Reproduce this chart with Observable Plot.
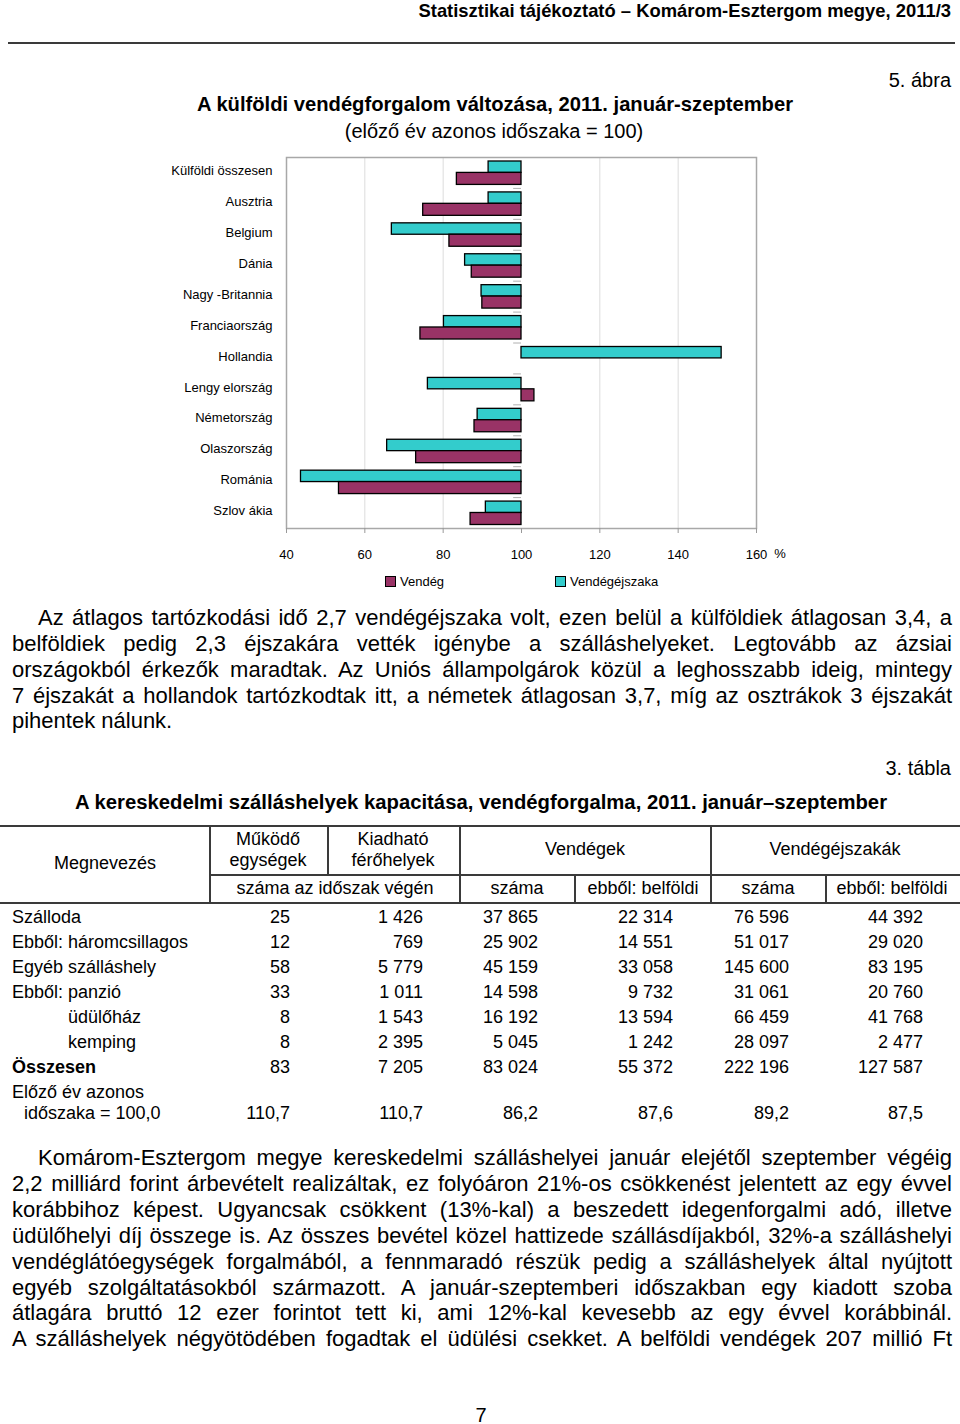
<!DOCTYPE html>
<html>
<head>
<meta charset="utf-8">
<script src="https://cdn.jsdelivr.net/npm/d3@7"></script>
<script src="https://cdn.jsdelivr.net/npm/@observablehq/plot@0.6"></script>
<style>
  html, body { margin: 0; padding: 0; background: #fff; }
  #page { position: relative; width: 960px; height: 1424px; overflow: hidden;
          font-family: "Liberation Sans", Arial, Helvetica, sans-serif; color: #000; background: #fff; }
  .abs { position: absolute; white-space: nowrap; }
  .pl { position: absolute; white-space: normal; text-align: justify; text-align-last: justify; }
  .pl.last { text-align-last: left; }
  .hl { position: absolute; background: #3a3a3a; }
  #chart { position: absolute; left: 0; top: 150px; }
</style>
</head>
<body>
<div id="page"><div id="chart"></div></div>
<script>
// ---------------- chart data ----------------
const categories = ["Külföldi összesen", "Ausztria", "Belgium", "Dánia", "Nagy -Britannia", "Franciaország",
  "Hollandia", "Lengy elország", "Németország", "Olaszország", "Románia", "Szlov ákia"];
const vendeg =        [83.5, 74.9, 81.6, 87.3, 90.0, 74.2, null, 103.3, 88.0, 73.1, 53.4, 87.0];
const vendegejszaka = [91.6, 91.6, 66.9, 85.6, 89.8, 80.2, 151.1, 76.1, 88.8, 65.7, 43.7, 90.9];
const xTicks = [40, 60, 80, 100, 120, 140, 160];
const gridTicks = [60, 80, 120, 140];
const seriesNames = ["Vendég", "Vendégéjszaka"];
const seriesColors = ["#993366", "#33CCCC"];

// ---------------- table data ----------------
const rowLabels = ["Szálloda", "Ebből: háromcsillagos", "Egyéb szálláshely", "Ebből: panzió", "üdülőház", "kemping", "Összesen"];
const colEgysegek = ["25", "12", "58", "33", "8", "8", "83"];
const colFerohely = ["1 426", "769", "5 779", "1 011", "1 543", "2 395", "7 205"];
const colVendeg = ["37 865", "25 902", "45 159", "14 598", "16 192", "5 045", "83 024"];
const colVendegBel = ["22 314", "14 551", "33 058", "9 732", "13 594", "1 242", "55 372"];
const colEjszaka = ["76 596", "51 017", "145 600", "31 061", "66 459", "28 097", "222 196"];
const colEjszakaBel = ["44 392", "29 020", "83 195", "20 760", "41 768", "2 477", "127 587"];
const indexRow = ["110,7", "110,7", "86,2", "87,6", "89,2", "87,5"];

const page = document.getElementById("page");

function txt(str, x, y, opts = {}) {
  const size = opts.size || 20;
  const lh = Math.round(size * 1.25);
  const d = document.createElement("div");
  d.className = "abs";
  d.textContent = str;
  d.style.fontSize = size + "px";
  d.style.lineHeight = lh + "px";
  d.style.top = (y - lh / 2) + "px";
  if (opts.weight) d.style.fontWeight = opts.weight;
  const anchor = opts.anchor || "start";
  if (anchor === "start") d.style.left = x + "px";
  else if (anchor === "end") d.style.right = (960 - x) + "px";
  else { d.style.left = (x - 500) + "px"; d.style.width = "1000px"; d.style.textAlign = "center"; }
  page.appendChild(d);
  return d;
}
function hline(x1, x2, y, w) {
  const d = document.createElement("div");
  d.className = "hl";
  d.style.left = x1 + "px"; d.style.width = (x2 - x1) + "px";
  d.style.top = (y - w / 2) + "px"; d.style.height = w + "px";
  page.appendChild(d);
}
function vline(x, y1, y2, w) {
  const d = document.createElement("div");
  d.className = "hl";
  d.style.left = (x - w / 2) + "px"; d.style.width = w + "px";
  d.style.top = y1 + "px"; d.style.height = (y2 - y1) + "px";
  page.appendChild(d);
}
function para(lines, yStart, step, size) {
  lines.forEach((s, i) => {
    const d = document.createElement("div");
    d.className = "pl" + (i === lines.length - 1 && !lines.justifyLast ? " last" : "");
    d.textContent = s;
    d.style.fontSize = size + "px";
    d.style.lineHeight = step + "px";
    const left = i === 0 ? 38 : 12;
    d.style.left = left + "px";
    d.style.width = (952 - left) + "px";
    d.style.top = (yStart + i * step - step / 2) + "px";
    page.appendChild(d);
  });
}

// ---------------- page header ----------------
txt("Statisztikai tájékoztató – Komárom-Esztergom megye, 2011/3", 951, 10, { size: 18.4, weight: "bold", anchor: "end" });
hline(8, 955, 43, 2);
txt("5. ábra", 951, 80, { size: 20, anchor: "end" });
txt("A külföldi vendégforgalom változása, 2011. január-szeptember", 495, 104, { size: 20.2, weight: "bold", anchor: "middle" });
txt("(előző év azonos időszaka = 100)", 494, 131, { size: 20, anchor: "middle" });

// ---------------- chart ----------------
const data = categories.flatMap((c, i) => [
  { cat: c, series: seriesNames[1], value: vendegejszaka[i] },
  { cat: c, series: seriesNames[0], value: vendeg[i] }
]);
const bandH = 371 / categories.length;

const chart = Plot.plot({
  width: 960,
  height: 420,
  marginLeft: 286,
  marginRight: 204,
  marginTop: 7,
  marginBottom: 42,
  style: { fontFamily: '"Liberation Sans", Arial, sans-serif', fontSize: "13px", color: "#000", background: "transparent" },
  x: { domain: [40, 160], ticks: xTicks },
  y: { domain: categories, padding: 0, round: false },
  marks: [
    Plot.gridX(gridTicks, { stroke: "#dcdcdc", strokeOpacity: 1 }),
    Plot.frame({ stroke: "#a8a8a8", strokeWidth: 1.5 }),
    Plot.ruleY(categories.slice(1), { y: d => d, dy: -bandH / 2, x1: () => 98, x2: () => 100, stroke: "#b0b0b0" }),
    Plot.barX(data.filter(d => d.series === seriesNames[1]), {
      y: "cat", x1: () => 100, x2: "value", fill: seriesColors[1], stroke: "#000", strokeWidth: 1.3,
      insetTop: 4, insetBottom: bandH - 15.4
    }),
    Plot.barX(data.filter(d => d.series === seriesNames[0] && d.value != null), {
      y: "cat", x1: () => 100, x2: "value", fill: seriesColors[0], stroke: "#000", strokeWidth: 1.3,
      insetTop: 15.4, insetBottom: 3.5
    }),
    Plot.axisX({ ticks: xTicks, tickSize: 5, tickPadding: 16, stroke: "#999", label: null }),
    Plot.axisY({ tickSize: 0, tickPadding: 14, dy: -2, label: null })
  ]
});
document.getElementById("chart").appendChild(chart);

// unit label and legend
txt("%", 780, 554, { size: 13, anchor: "middle" });
const legendX = [385, 555];
seriesNames.forEach((name, i) => {
  const sq = document.createElement("div");
  sq.className = "abs";
  sq.style.left = legendX[i] + "px";
  sq.style.top = "576px";
  sq.style.width = "9px"; sq.style.height = "9px";
  sq.style.background = seriesColors[i];
  sq.style.border = "1.3px solid #000";
  page.appendChild(sq);
  txt(name, legendX[i] + 15, 582, { size: 13 });
});

// ---------------- paragraph 1 ----------------
para([
  "Az átlagos tartózkodási idő 2,7 vendégéjszaka volt, ezen belül a külföldiek átlagosan 3,4, a",
  "belföldiek pedig 2,3 éjszakára vették igénybe a szálláshelyeket. Legtovább az ázsiai",
  "országokból érkezők maradtak. Az Uniós állampolgárok közül a leghosszabb ideig, mintegy",
  "7 éjszakát a hollandok tartózkodtak itt, a németek átlagosan 3,7, míg az osztrákok 3 éjszakát",
  "pihentek nálunk."
], 618, 25.8, 22);

// ---------------- table ----------------
txt("3. tábla", 951, 768, { size: 20, anchor: "end" });
txt("A kereskedelmi szálláshelyek kapacitása, vendégforgalma, 2011. január–szeptember", 481, 802, { size: 20.3, weight: "bold", anchor: "middle" });
hline(0, 960, 826, 2);
hline(210, 960, 875, 1.2);
hline(0, 960, 903, 2);
vline(210, 826, 903, 1.2);
vline(328, 826, 875, 1.2);
vline(460, 826, 903, 1.2);
vline(575, 875, 903, 1.2);
vline(711, 826, 903, 1.2);
vline(826, 875, 903, 1.2);
txt("Megnevezés", 105, 863, { size: 18, anchor: "middle" });
txt("Működő", 268, 839, { size: 18, anchor: "middle" });
txt("egységek", 268, 860, { size: 18, anchor: "middle" });
txt("Kiadható", 393, 839, { size: 18, anchor: "middle" });
txt("férőhelyek", 393, 860, { size: 18, anchor: "middle" });
txt("Vendégek", 585, 849, { size: 18, anchor: "middle" });
txt("Vendégéjszakák", 835, 849, { size: 18, anchor: "middle" });
txt("száma az időszak végén", 335, 888, { size: 18, anchor: "middle" });
txt("száma", 517, 888, { size: 18, anchor: "middle" });
txt("ebből: belföldi", 643, 888, { size: 18, anchor: "middle" });
txt("száma", 768, 888, { size: 18, anchor: "middle" });
txt("ebből: belföldi", 892, 888, { size: 18, anchor: "middle" });

const colRight = [290, 423, 538, 673, 789, 923];
const cols = [colEgysegek, colFerohely, colVendeg, colVendegBel, colEjszaka, colEjszakaBel];
rowLabels.forEach((lab, r) => {
  const y = 917 + r * 25;
  const indent = (lab === "üdülőház" || lab === "kemping") ? 68 : 12;
  txt(lab, indent, y, { size: 18, weight: lab === "Összesen" ? "bold" : null });
  cols.forEach((col, c) => txt(col[r], colRight[c], y, { size: 18, anchor: "end" }));
});
txt("Előző év azonos", 12, 1092, { size: 18 });
txt("időszaka = 100,0", 24, 1113, { size: 18 });
indexRow.forEach((v, c) => txt(v, colRight[c], 1113, { size: 18, anchor: "end" }));

// ---------------- paragraph 2 ----------------
const p2 = [
  "Komárom-Esztergom megye kereskedelmi szálláshelyei január elejétől szeptember végéig",
  "2,2 milliárd forint árbevételt realizáltak, ez folyóáron 21%-os csökkenést jelentett az egy évvel",
  "korábbihoz képest. Ugyancsak csökkent (13%-kal) a beszedett idegenforgalmi adó, illetve",
  "üdülőhelyi díj összege is. Az összes bevétel közel hattizede szállásdíjakból, 32%-a szálláshelyi",
  "vendéglátóegységek forgalmából, a fennmaradó részük pedig a szálláshelyek által nyújtott",
  "egyéb szolgáltatásokból származott. A január-szeptemberi időszakban egy kiadott szoba",
  "átlagára bruttó 12 ezer forintot tett ki, ami 12%-kal kevesebb az egy évvel korábbinál.",
  "A szálláshelyek négyötödében fogadtak el üdülési csekket. A belföldi vendégek 207 millió Ft"
];
p2.justifyLast = true;
para(p2, 1158, 25.9, 22);

txt("7", 481, 1415, { size: 20, anchor: "middle" });
</script>
</body>
</html>
